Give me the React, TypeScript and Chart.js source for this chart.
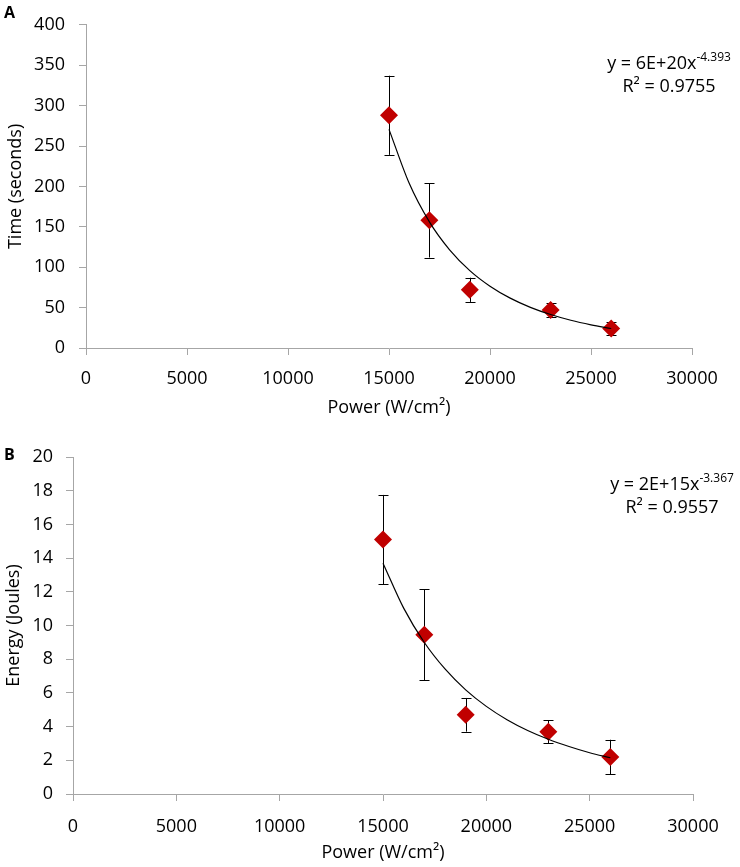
import { useEffect, useRef } from 'react'
import { Chart, registerables, Plugin } from 'chart.js'

Chart.register(...registerables)

// measured points (power in W/cm², mean +/- error)
const powers = [15000, 17000, 19000, 23000, 26000]
const timeMean = [288, 158, 72, 47, 24]
const timeErr = [49, 46, 15, 9, 8]
const energyMean = [15.1, 9.45, 4.7, 3.7, 2.2]
const energyErr = [2.65, 2.7, 1.0, 0.68, 1.02]

// power-law trendlines
const trendX = [15000, 16000, 17000, 18000, 19000, 20000, 21000, 22000, 23000, 24000, 25000, 26000]
const timeTrend = [270.6, 203.8, 156.1, 121.5, 95.8, 76.5, 61.7, 50.3, 41.4, 34.3, 28.7, 24.1]
const energyTrend = [13.7, 11.03, 8.99, 7.42, 6.18, 5.2, 4.41, 3.77, 3.25, 2.82, 2.45, 2.15]

const xTicks = [0, 5000, 10000, 15000, 20000, 25000, 30000]

const FONT = "'Open Sans', sans-serif"
const AXIS_GRAY = '#A6A6A6'
const RED = '#C00000'

interface PanelSpec {
  yLabel: string
  yMax: number
  yStep: number
  mean: number[]
  err: number[]
  trend: number[]
  coeff: string
  expo: string
  r2: string
  // layout in canvas pixels
  height: number
  padTop: number
  padBottom: number
  padRight: number
  yWidth: number
  xHeight: number
  xTickPad: number
  yTickPad: number
  yTitlePad: number
  eqX: number
  eqY: number
}

const errorBars = (mean: number[], err: number[]): Plugin => ({
  id: 'errorBars',
  beforeDatasetsDraw(chart) {
    const { ctx, scales } = chart
    const xs = scales.x
    const ys = scales.y
    ctx.save()
    ctx.strokeStyle = '#000'
    ctx.lineWidth = 1
    powers.forEach((p, i) => {
      const x = Math.round(xs.getPixelForValue(p)) + 0.5
      const top = ys.getPixelForValue(mean[i] + err[i])
      const bot = ys.getPixelForValue(mean[i] - err[i])
      ctx.beginPath()
      ctx.moveTo(x, top)
      ctx.lineTo(x, bot)
      ctx.moveTo(x - 5, Math.round(top) + 0.5)
      ctx.lineTo(x + 5, Math.round(top) + 0.5)
      ctx.moveTo(x - 5, Math.round(bot) + 0.5)
      ctx.lineTo(x + 5, Math.round(bot) + 0.5)
      ctx.stroke()
    })
    ctx.restore()
  },
})

const equation = (spec: PanelSpec): Plugin => ({
  id: 'equation',
  afterDraw(chart) {
    const { ctx } = chart
    ctx.save()
    ctx.fillStyle = '#000'
    ctx.textBaseline = 'alphabetic'
    ctx.textAlign = 'left'
    const main = `y = ${spec.coeff}x`
    ctx.font = `18px ${FONT}`
    const wMain = ctx.measureText(main).width
    ctx.font = `12px ${FONT}`
    const wExp = ctx.measureText(spec.expo).width
    const start = spec.eqX - (wMain + wExp) / 2
    ctx.font = `18px ${FONT}`
    ctx.fillText(main, start, spec.eqY)
    ctx.font = `12px ${FONT}`
    ctx.fillText(spec.expo, start + wMain, spec.eqY - 8)
    ctx.font = `18px ${FONT}`
    ctx.textAlign = 'center'
    ctx.fillText(`R² = ${spec.r2}`, spec.eqX, spec.eqY + 23)
    ctx.restore()
  },
})

function Panel({ spec }: { spec: PanelSpec }) {
  const canvasRef = useRef<HTMLCanvasElement>(null)

  useEffect(() => {
    if (!canvasRef.current) return
    const chart = new Chart(canvasRef.current, {
      type: 'scatter',
      data: {
        datasets: [
          {
            data: powers.map((p, i) => ({ x: p, y: spec.mean[i] })),
            pointStyle: 'rectRot',
            pointRadius: 9,
            pointBackgroundColor: RED,
            pointBorderWidth: 0,
            order: 1,
          },
          {
            data: trendX.map((p, i) => ({ x: p, y: spec.trend[i] })),
            showLine: true,
            borderColor: '#000',
            borderWidth: 1.2,
            pointRadius: 0,
            cubicInterpolationMode: 'monotone',
            order: 0,
          },
        ],
      },
      options: {
        responsive: false,
        animation: false,
        layout: {
          padding: { left: 0, top: spec.padTop, right: spec.padRight, bottom: spec.padBottom },
        },
        plugins: {
          legend: { display: false },
          tooltip: { enabled: false },
        },
        scales: {
          x: {
            type: 'linear',
            min: 0,
            max: 30000,
            afterBuildTicks: (scale) => {
              scale.ticks = xTicks.map((v) => ({ value: v }))
            },
            afterFit: (scale) => {
              scale.height = spec.xHeight
            },
            ticks: {
              color: '#000',
              font: { family: FONT, size: 18 },
              padding: spec.xTickPad,
              maxRotation: 0,
              callback: (v) => String(v),
            },
            grid: { drawOnChartArea: false, drawTicks: true, tickLength: 7, color: AXIS_GRAY },
            border: { color: AXIS_GRAY, width: 1 },
            title: {
              display: true,
              text: 'Power (W/cm²)',
              color: '#000',
              font: { family: FONT, size: 18 },
              padding: 0,
            },
          },
          y: {
            type: 'linear',
            min: 0,
            max: spec.yMax,
            afterFit: (scale) => {
              scale.width = spec.yWidth
            },
            ticks: {
              stepSize: spec.yStep,
              color: '#000',
              font: { family: FONT, size: 18 },
              padding: spec.yTickPad,
              callback: (v) => String(v),
            },
            grid: { drawOnChartArea: false, drawTicks: true, tickLength: 7, color: AXIS_GRAY },
            border: { color: AXIS_GRAY, width: 1 },
            title: {
              display: true,
              text: spec.yLabel,
              color: '#000',
              font: { family: FONT, size: 18 },
              padding: { top: spec.yTitlePad, bottom: 0 },
            },
          },
        },
      },
      plugins: [errorBars(spec.mean, spec.err), equation(spec)],
    })
    return () => chart.destroy()
  }, [spec])

  return <canvas ref={canvasRef} width={740} height={spec.height} style={{ display: 'block' }} />
}

const panelA: PanelSpec = {
  yLabel: 'Time (seconds)',
  yMax: 400,
  yStep: 50,
  mean: timeMean,
  err: timeErr,
  trend: timeTrend,
  coeff: '6E+20',
  expo: '-4.393',
  r2: '0.9755',
  height: 430,
  padTop: 11,
  padBottom: 11,
  padRight: 48,
  yWidth: 86,
  xHeight: 71,
  xTickPad: 13,
  yTickPad: 14,
  yTitlePad: 5,
  eqX: 669,
  eqY: 69,
}

const panelB: PanelSpec = {
  yLabel: 'Energy (Joules)',
  yMax: 20,
  yStep: 2,
  mean: energyMean,
  err: energyErr,
  trend: energyTrend,
  coeff: '2E+15',
  expo: '-3.367',
  r2: '0.9557',
  height: 437,
  padTop: 27,
  padBottom: 3,
  padRight: 47,
  yWidth: 73,
  xHeight: 70,
  xTickPad: 15,
  yTickPad: 13,
  yTitlePad: 3,
  eqX: 672,
  eqY: 60,
}

const letterStyle: React.CSSProperties = {
  position: 'absolute',
  left: 4,
  fontFamily: FONT,
  fontWeight: 700,
  fontSize: 16,
  lineHeight: '16px',
  color: '#000',
}

export default function App() {
  return (
    <div style={{ position: 'absolute', left: 0, top: 0, width: 740, height: 867, background: '#fff' }}>
      <div style={{ position: 'absolute', left: 0, top: 0 }}>
        <Panel spec={panelA} />
      </div>
      <div style={{ position: 'absolute', left: 0, top: 430 }}>
        <Panel spec={panelB} />
      </div>
      <div style={{ ...letterStyle, top: 4 }}>A</div>
      <div style={{ ...letterStyle, top: 446 }}>B</div>
    </div>
  )
}
